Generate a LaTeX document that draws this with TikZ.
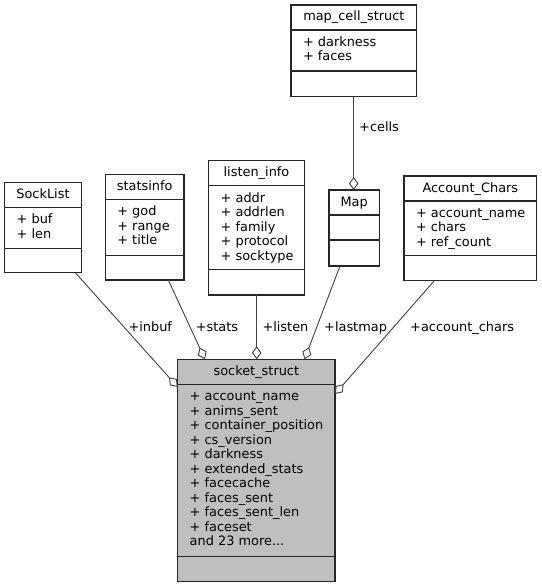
\documentclass[tikz,border=0pt]{standalone}
\usepackage{fontspec}
\setmainfont{DejaVu Sans}
\usetikzlibrary{arrows.meta}
\begin{document}
\begin{tikzpicture}[x=1pt,y=-1pt,
  font=\fontsize{12.9}{14.5}\selectfont,
  box/.style={draw=black!85, line width=1.1pt, inner sep=0pt, outer sep=0pt, anchor=north west},
  plainbox/.style={box, fill=white},
  hotbox/.style={box, fill=black!25},
  divider/.style={draw=black!85, line width=1.1pt},
  attr/.style={anchor=base west, inner sep=0pt},
  ttl/.style={anchor=base, inner sep=0pt},
  lbl/.style={anchor=base west, inner sep=0pt},
  edge/.style={draw=black!75, line width=0.9pt,
    -{Diamond[open, length=13pt, width=9.5pt, line width=0.9pt, fill=white]}}]
\useasboundingbox (0,0) rectangle (541,588);
\newcommand{\umlclass}[9]{%
  \node[#9, minimum width={(#3-#2)*1pt}, minimum height={(#6-#4)*1pt}] (#1) at (#2,#4) {};
  \draw[divider] (#2,{#4+25}) -- (#3,{#4+25});
  \draw[divider] (#2,#5) -- (#3,#5);
  \node[ttl] at ({(#2+#3)/2},{#4+16}) {#7};
  \foreach \t [count=\i from 0] in {#8}
    \node[attr] at ({#2+11.8},{#4+25+16.4+14.5*\i}) {\t};
}
% name, x1, x2, top, lower divider, bottom, title, attributes, style
\umlclass{mapcell}{291}{416.7}{5}{71}{96.7}{map\_cell\_struct}{+ darkness,+ faces}{plainbox}
\umlclass{map}{329}{379.3}{190}{240}{266}{Map}{}{plainbox}
\umlclass{acct}{404}{536.7}{176}{255.7}{280.7}{Account\_Chars}{+ account\_name,+ chars,+ ref\_count}{plainbox}
\umlclass{socklist}{4.7}{81.3}{182.3}{248.3}{272.7}{SockList}{+ buf,+ len}{plainbox}
\umlclass{stats}{105.3}{184}{174.3}{255.7}{280}{statsinfo}{+ god,+ range,+ title}{plainbox}
\umlclass{listen}{208.7}{304.3}{160.7}{269.3}{295}{listen\_info}{+ addr,+ addrlen,+ family,+ protocol,+ socktype}{plainbox}
\umlclass{sock}{177.7}{335}{359.3}{556.7}{581.7}{socket\_struct}{+ account\_name,+ anims\_sent,+ container\_position,+ cs\_version,+ darkness,+ extended\_stats,+ facecache,+ faces\_sent,+ faces\_sent\_len,+ faceset,and 23 more.{}.{}.}{hotbox}
% connector end points on the box borders
\coordinate (inbufA) at (75.3,272.7);
\coordinate (inbufB) at (177.7,387);
\coordinate (statsA) at (168.3,280);
\coordinate (statsB) at (205,359.3);
\coordinate (listenA) at (256.7,295);
\coordinate (listenB) at (256.7,359.3);
\coordinate (lastA) at (340,266);
\coordinate (lastB) at (304.5,359.3);
\coordinate (acctA) at (434.3,280.7);
\coordinate (acctB) at (335,394);
\coordinate (cellsA) at (353.7,96.7);
\coordinate (cellsB) at (353.7,190);
\draw[edge] (inbufA) -- (inbufB);
\draw[edge] (statsA) -- (statsB);
\draw[edge] (listenA) -- (listenB);
\draw[edge] (lastA) -- (lastB);
\draw[edge] (acctA) -- (acctB);
\draw[edge] (cellsA) -- (cellsB);
\node[lbl] (linbuf) at (128.3,331) {+inbuf};
\node[lbl] (lstats) at (195.7,331) {+stats};
\node[lbl] (llisten) at (262.3,331) {+listen};
\node[lbl] (llast) at (324,331) {+lastmap};
\node[lbl] (lacct) at (410,331) {+account\_chars};
\node[lbl] (lcells) at (359,131.5) {+cells};
\end{tikzpicture}
\end{document}
